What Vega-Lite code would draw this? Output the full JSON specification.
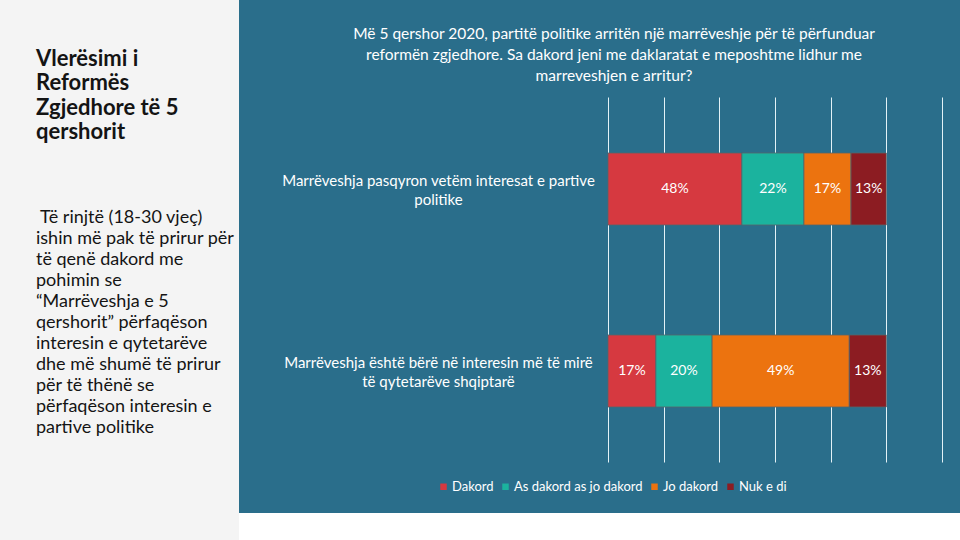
{
  "$schema": "https://vega.github.io/schema/vega-lite/v6.json",
  "background": "#2a6e8b",
  "padding": 0,
  "config": {"view": {"stroke": null}, "font": "Lato"},
  "spacing": 0,
  "resolve": {"scale": {"color": "independent"}, "legend": {"color": "independent"}},
  "hconcat": [
    {
      "width": 239,
      "height": 540,
      "view": {"fill": "#f4f4f4", "stroke": null},
      "data": {"values": [{}]},
      "mark": {"type": "point", "opacity": 0},
      "title": {
        "text": ["Vlerësimi i", "Reformës", "Zgjedhore të 5", "qershorit"],
        "subtitle": [
          "\u200b\u00a0Të rinjtë (18-30 vjeç)",
          "ishin më pak të prirur për",
          "të qenë dakord me",
          "pohimin se",
          "“Marrëveshja e 5",
          "qershorit” përfaqëson",
          "interesin e qytetarëve",
          "dhe më shumë të prirur",
          "për të thënë se",
          "përfaqëson interesin e",
          "partive politike"
        ],
        "orient": "top",
        "anchor": "start",
        "frame": "group",
        "dx": 36,
        "offset": -437.5,
        "font": "Lato",
        "fontSize": 22,
        "fontWeight": "bold",
        "color": "#141414",
        "lineHeight": 24.5,
        "subtitleFont": "Lato",
        "subtitleFontSize": 18,
        "subtitleColor": "#141414",
        "subtitleLineHeight": 21,
        "subtitlePadding": 64.5
      }
    },
    {
      "spacing": 0,
      "resolve": {"scale": {"color": "independent"}, "legend": {"color": "independent"}},
      "vconcat": [
        {
          "width": 721,
          "height": 513,
          "data": {
            "values": [
              {"statement": "Marrëveshja pasqyron vetëm interesat e partive|politike", "response": "Dakord", "code": 1, "share": 0.481},
              {"statement": "Marrëveshja pasqyron vetëm interesat e partive|politike", "response": "As dakord as jo dakord", "code": 2, "share": 0.223},
              {"statement": "Marrëveshja pasqyron vetëm interesat e partive|politike", "response": "Jo dakord", "code": 3, "share": 0.169},
              {"statement": "Marrëveshja pasqyron vetëm interesat e partive|politike", "response": "Nuk e di", "code": 4, "share": 0.127},
              {"statement": "Marrëveshja është bërë në interesin më të mirë|të qytetarëve shqiptarë", "response": "Dakord", "code": 1, "share": 0.172},
              {"statement": "Marrëveshja është bërë në interesin më të mirë|të qytetarëve shqiptarë", "response": "As dakord as jo dakord", "code": 2, "share": 0.202},
              {"statement": "Marrëveshja është bërë në interesin më të mirë|të qytetarëve shqiptarë", "response": "Jo dakord", "code": 3, "share": 0.493},
              {"statement": "Marrëveshja është bërë në interesin më të mirë|të qytetarëve shqiptarë", "response": "Nuk e di", "code": 4, "share": 0.133}
            ]
          },
          "title": {
            "text": " ",
            "fontSize": 14,
            "subtitle": [
              "Më 5 qershor 2020, partitë politike arritën një marrëveshje për të përfunduar",
              "reformën zgjedhore. Sa dakord jeni me daklaratat e meposhtme lidhur me",
              "marreveshjen e arritur?"
            ],
            "subtitleFont": "Lato",
            "subtitleFontSize": 15.5,
            "subtitleColor": "#ffffff",
            "subtitleLineHeight": 21,
            "subtitlePadding": 12,
            "anchor": "middle",
            "frame": "group",
            "dx": 14.5,
            "offset": -84
          },
          "encoding": {
            "y": {
              "field": "statement",
              "type": "nominal",
              "sort": null,
              "scale": {"paddingInner": 0.6044, "paddingOuter": 0.7115, "align": 0.5907},
              "axis": {
                "title": null,
                "ticks": false,
                "tickSize": 0,
                "domain": false,
                "grid": false,
                "offset": -199,
                "labelExpr": "split(datum.label, '|')",
                "labelAlign": "center",
                "labelBaseline": "middle",
                "labelPadding": 0,
                "labelOffset": -7.5,
                "labelLimit": 400,
                "labelFont": "Lato",
                "labelFontSize": 15,
                "labelLineHeight": 19,
                "labelColor": "#ffffff",
                "minExtent": 0
              }
            },
            "x": {
              "field": "share",
              "type": "quantitative",
              "stack": "zero",
              "scale": {"domain": [-1.3257, 1.2647], "nice": false, "zero": false},
              "axis": {
                "values": [0, 0.2, 0.4, 0.6, 0.8, 1, 1.2],
                "grid": false,
                "labels": false,
                "ticks": true,
                "tickSize": -365,
                "tickColor": "#e3f2f7",
                "tickWidth": 1,
                "domain": false,
                "offset": -51,
                "title": null,
                "minExtent": 0
              }
            },
            "order": {"field": "code", "type": "quantitative"}
          },
          "layer": [
            {
              "mark": {"type": "bar", "stroke": "#56656b", "strokeWidth": 0.8},
              "encoding": {
                "color": {
                  "field": "response",
                  "type": "nominal",
                  "scale": {
                    "domain": ["Dakord", "As dakord as jo dakord", "Jo dakord", "Nuk e di"],
                    "range": ["#d63940", "#1bb39e", "#ec730f", "#8c1c22"]
                  },
                  "legend": {
                    "orient": "none",
                    "legendX": 198,
                    "legendY": 480,
                    "direction": "horizontal",
                    "title": null,
                    "symbolType": "square",
                    "symbolSize": 42,
                    "symbolStrokeWidth": 0,
                    "labelColor": "#ffffff",
                    "labelFont": "Lato",
                    "labelFontSize": 13,
                    "labelOffset": 2,
                    "columnPadding": 5,
                    "padding": 0
                  }
                }
              }
            },
            {
              "mark": {"type": "text", "color": "#ffffff", "fontSize": 14, "font": "Lato", "baseline": "middle"},
              "encoding": {
                "x": {"field": "share", "type": "quantitative", "stack": "zero", "bandPosition": 0.5},
                "detail": {"field": "response"},
                "text": {"field": "share", "type": "quantitative", "format": ".0%"}
              }
            }
          ]
        },
        {
          "width": 721,
          "height": 27,
          "view": {"fill": "#ffffff", "stroke": null},
          "data": {"values": [{}]},
          "mark": {"type": "point", "opacity": 0}
        }
      ]
    }
  ]
}
